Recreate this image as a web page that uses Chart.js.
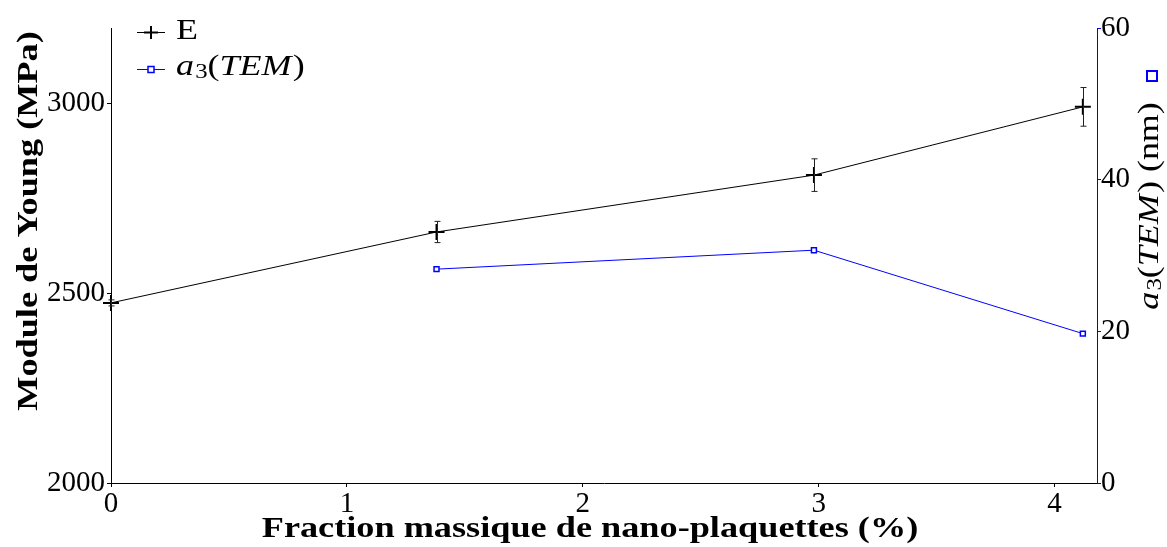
<!DOCTYPE html>
<html><head><meta charset="utf-8">
<script src="https://cdn.jsdelivr.net/npm/chart.js@4/dist/chart.umd.min.js"></script>
<style>html,body{margin:0;padding:0;background:#fff;overflow:hidden}</style>
</head><body><canvas id="c" width="1167" height="547"></canvas>
<script>
const fractionE = [0, 1.38, 2.98, 4.12];
const youngE = [2475, 2662, 2812, 2992];
const youngErr = [8, 28, 43, 51];
const fractionA3 = [1.38, 2.98, 4.12];
const a3TEM = [28.2, 30.7, 19.7];
const leftTicks = [2000, 2500, 3000];
const rightTicks = [0, 20, 40, 60];
const bottomTicks = [0, 1, 2, 3, 4];
const labelE = 'E';
const labelA3 = 'a3(TEM)';
const titleX = 'Fraction massique de nano-plaquettes (%)';
const titleY = 'Module de Young (MPa)';

const SERIF = "'Liberation Serif', 'DejaVu Serif', serif";
const BLUE = '#0000ff';
const STRETCH = 1.24;

function mathFont(s, size) {
  return s === 's' ? `${Math.round(size*0.7)}px ${SERIF}` : `${s==='i'?'italic ':''}${size}px ${SERIF}`;
}
function measureMath(ctx, size, parts){
  let w=0;
  for (const [t,s] of parts){ ctx.font = mathFont(s,size); w += ctx.measureText(t).width + (s==='i'?1:0); }
  return w;
}
function drawMath(ctx, x, y, size, parts) {
  let cx = x;
  for (const [t, s] of parts) {
    ctx.font = mathFont(s, size);
    ctx.fillText(t, cx, s === 's' ? y + size*0.2 : y);
    cx += ctx.measureText(t).width + (s==='i' ? 1 : 0);
  }
}
const a3Parts = [['a','i'],['3','s'],['(','r'],['TEM','i'],[')','r']];

const errorBars = {
  id: 'errorBars',
  afterDatasetsDraw(chart) {
    const {ctx, scales} = chart;
    ctx.save();
    ctx.strokeStyle = '#222';
    ctx.lineWidth = 1;
    for (let i = 0; i < fractionE.length; i++) {
      const px = Math.round(scales.x.getPixelForValue(fractionE[i])) + 0.5;
      const top = scales.y.getPixelForValue(youngE[i] + youngErr[i]);
      const bot = scales.y.getPixelForValue(youngE[i] - youngErr[i]);
      ctx.beginPath();
      ctx.moveTo(px, top); ctx.lineTo(px, bot);
      ctx.moveTo(px-3, top); ctx.lineTo(px+3, top);
      ctx.moveTo(px-3, bot); ctx.lineTo(px+3, bot);
      ctx.stroke();
    }
    ctx.restore();
  }
};

const decor = {
  id: 'decor',
  afterDraw(chart) {
    const {ctx} = chart;
    ctx.save();
    ctx.fillStyle = '#000';
    ctx.textBaseline = 'middle';
    ctx.textAlign = 'left';
    // legend
    ctx.strokeStyle = '#000'; ctx.lineWidth = 1;
    ctx.beginPath(); ctx.moveTo(137, 32.5); ctx.lineTo(165, 32.5); ctx.stroke();
    ctx.lineWidth = 2;
    ctx.beginPath(); ctx.moveTo(151, 26); ctx.lineTo(151, 39); ctx.moveTo(144, 32.5); ctx.lineTo(158, 32.5); ctx.stroke();
    ctx.save(); ctx.translate(176, 31); ctx.scale(STRETCH, 1);
    ctx.font = `29px ${SERIF}`; ctx.fillText(labelE, 0, 0);
    ctx.restore();
    ctx.strokeStyle = BLUE; ctx.lineWidth = 1;
    ctx.beginPath(); ctx.moveTo(137, 69.5); ctx.lineTo(165, 69.5); ctx.stroke();
    ctx.fillStyle = '#fff'; ctx.fillRect(148, 66.5, 6, 6);
    ctx.lineWidth = 1.5; ctx.strokeRect(148, 66.5, 6, 6);
    ctx.fillStyle = '#000';
    ctx.save(); ctx.translate(176, 67); ctx.scale(STRETCH, 1);
    drawMath(ctx, 0, 0, 29, a3Parts);
    ctx.restore();
    // x title
    ctx.save(); ctx.translate(590, 530); ctx.scale(1.25, 1);
    ctx.font = `bold 29px ${SERIF}`; ctx.textAlign = 'center';
    ctx.fillText(titleX, 0, 0);
    ctx.restore();
    // y title
    ctx.save();
    ctx.translate(30, 221); ctx.rotate(-Math.PI/2); ctx.scale(1.25, 1);
    ctx.font = `bold 29px ${SERIF}`; ctx.textAlign = 'center';
    ctx.fillText(titleY, 0, 0);
    ctx.restore();
    // right title
    ctx.save();
    ctx.translate(1150, 206); ctx.rotate(-Math.PI/2); ctx.scale(STRETCH, 1);
    const rparts = a3Parts.concat([[' (nm)','r']]);
    const w = measureMath(ctx, 29, rparts);
    ctx.textAlign = 'left';
    drawMath(ctx, -w/2, 0, 29, rparts);
    ctx.restore();
    // blue square marker
    ctx.strokeStyle = BLUE; ctx.lineWidth = 2;
    ctx.strokeRect(1147, 71, 10, 10);
    ctx.restore();
  }
};

const fixedTicks = arr => (scale) => { scale.ticks = arr.map(v => ({value: v})); };
const plain = v => String(v);

new Chart(document.getElementById('c'), {
  type: 'line',
  data: {
    datasets: [
      {
        label: labelE,
        data: fractionE.map((x, i) => ({x, y: youngE[i]})),
        yAxisID: 'y',
        borderColor: '#000', borderWidth: 1,
        pointStyle: 'cross', pointRadius: 8, pointBorderWidth: 2,
        pointBorderColor: '#000', clip: false, tension: 0
      },
      {
        label: labelA3,
        data: fractionA3.map((x, i) => ({x, y: a3TEM[i]})),
        yAxisID: 'y2',
        borderColor: BLUE, borderWidth: 1,
        pointStyle: 'rect', pointRadius: 3.5, pointBorderWidth: 1.5,
        pointBorderColor: BLUE, pointBackgroundColor: '#fff', clip: false, tension: 0
      }
    ]
  },
  options: {
    responsive: false, animation: false, devicePixelRatio: 1,
    layout: {padding: {top: 28, left: 0, right: 0, bottom: 0}},
    plugins: {legend: {display: false}, tooltip: {enabled: false}},
    scales: {
      x: {
        type: 'linear', position: 'bottom', min: 0, max: 4.18,
        afterBuildTicks: fixedTicks(bottomTicks),
        afterFit: s => { s.height = 64; },
        grid: {drawOnChartArea: false, color: '#000', tickLength: 4},
        border: {color: '#000', width: 1},
        ticks: {color: '#000', font: {family: SERIF, size: 29}, padding: 0, maxRotation: 0, callback: plain}
      },
      y: {
        type: 'linear', position: 'left', min: 2000, max: 3200,
        afterBuildTicks: fixedTicks(leftTicks),
        afterFit: s => { s.width = 111; },
        grid: {drawOnChartArea: false, color: '#000', tickLength: 4},
        border: {color: '#000', width: 1},
        ticks: {color: '#000', font: {family: SERIF, size: 29}, padding: 2, callback: plain}
      },
      y2: {
        type: 'linear', position: 'right', min: 0, max: 60,
        afterBuildTicks: fixedTicks(rightTicks),
        afterFit: s => { s.width = 70; },
        grid: {drawOnChartArea: false, color: BLUE, tickLength: 4},
        border: {color: BLUE, width: 1},
        ticks: {color: '#000', font: {family: SERIF, size: 29}, padding: 0, callback: plain}
      }
    }
  },
  plugins: [errorBars, decor]
});
</script>
</body></html>
